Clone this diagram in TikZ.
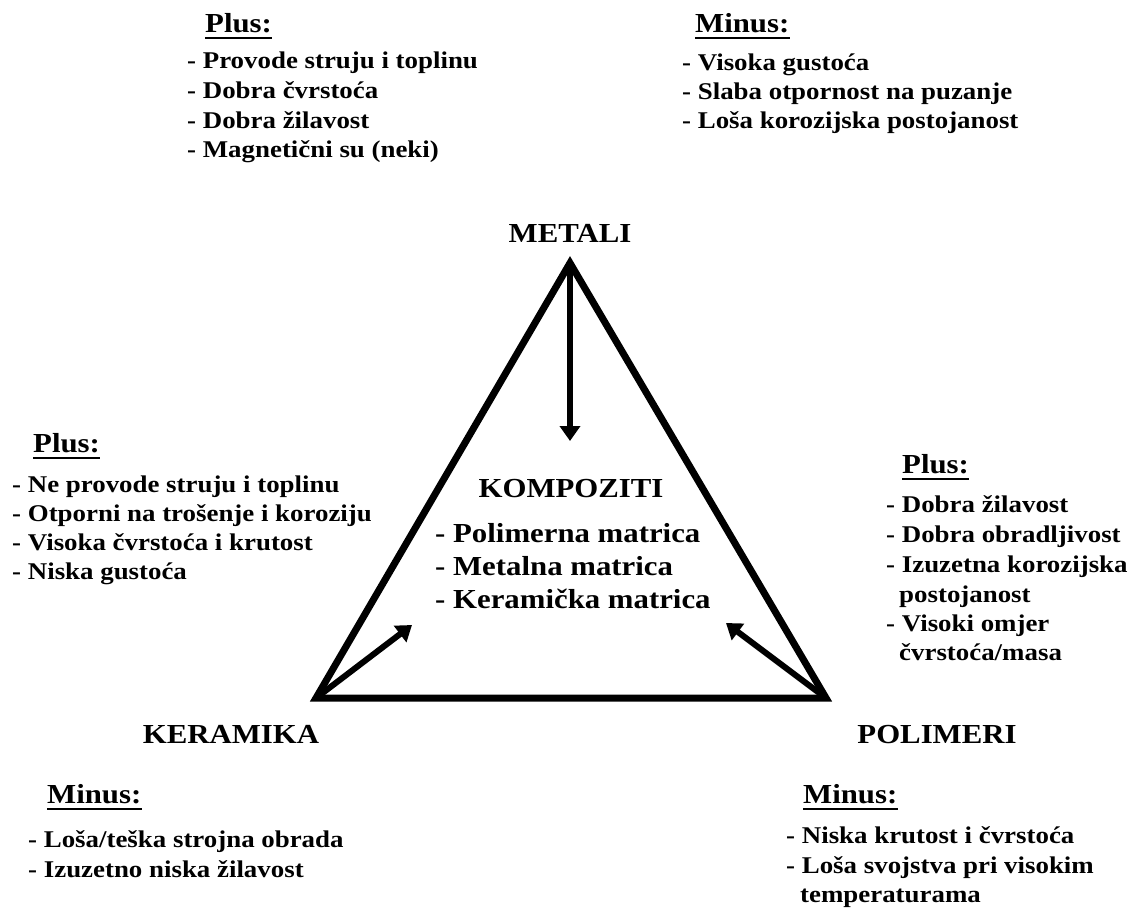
\documentclass[tikz,border=0pt]{standalone}
\usepackage{fontspec}
\setmainfont{Liberation Serif}[FakeStretch=1.12]
\usetikzlibrary{arrows.meta}
\tikzset{
  listitem/.style={anchor=base west, inner sep=0pt, font=\bfseries\fontsize{24}{28}\selectfont},
  bigitem/.style={anchor=base west, inner sep=0pt, font=\bfseries\fontsize{27.5}{32}\selectfont},
  hdrtext/.style={anchor=base west, inner sep=0pt, font=\bfseries\fontsize{27.5}{32}\selectfont},
  matname/.style={anchor=base, inner sep=0pt, font=\bfseries\fontsize{27.5}{32}\selectfont},
  ulline/.style={line width=2.5pt},
  triside/.style={line width=7pt, line join=miter},
  bigarrow/.style={line width=6pt, -{Triangle[width=20pt,length=15pt]}},
}
\newcommand\myhdr[3]{\node[hdrtext] (#1) at (#2) {#3};
  \draw[ulline] ([yshift=-6pt]#1.base west) -- ([yshift=-6pt]#1.base east);}
\begin{document}
\begin{tikzpicture}[x=1pt,y=-1pt]
\useasboundingbox[fill=white] (0,0) rectangle (1135,908);

% triangle
\coordinate (M) at (570,263);
\coordinate (K) at (316,698);
\coordinate (P) at (826,698);
\draw[triside] (M) -- (K) -- (P) -- cycle;
\coordinate (Mt) at (570,441);
\coordinate (Kt) at (412,625);
\coordinate (Pt) at (726,623);
\draw[bigarrow] (M) -- (Mt);
\draw[bigarrow] (K) -- (Kt);
\draw[bigarrow] (P) -- (Pt);

% material names
\node[matname] (metali) at (570,242) {METALI};
\node[matname] (keramika) at (231,743) {KERAMIKA};
\node[matname] (polimeri) at (937,743) {POLIMERI};

% centre
\node[matname] (kompoziti) at (571,497) {KOMPOZITI};
\node[bigitem] (c1) at (435,542) {- Polimerna matrica};
\node[bigitem] (c2) at (435,575) {- Metalna matrica};
\node[bigitem] (c3) at (435,608) {- Keramička matrica};

% metali plus
\myhdr{mp}{205,32}{Plus:}
\node[listitem] (mp1) at (187,68) {- Provode struju i toplinu};
\node[listitem] (mp2) at (187,98) {- Dobra čvrstoća};
\node[listitem] (mp3) at (187,128) {- Dobra žilavost};
\node[listitem] (mp4) at (187,157) {- Magnetični su (neki)};

% metali minus
\myhdr{mm}{695,32}{Minus:}
\node[listitem] (mm1) at (682,70) {- Visoka gustoća};
\node[listitem] (mm2) at (682,99) {- Slaba otpornost na puzanje};
\node[listitem] (mm3) at (682,128) {- Loša korozijska postojanost};

% keramika plus
\myhdr{kp}{33,452}{Plus:}
\node[listitem] (kp1) at (12,492) {- Ne provode struju i toplinu};
\node[listitem] (kp2) at (12,521) {- Otporni na trošenje i koroziju};
\node[listitem] (kp3) at (12,550) {- Visoka čvrstoća i krutost};
\node[listitem] (kp4) at (12,579) {- Niska gustoća};

% keramika minus
\myhdr{km}{47,803}{Minus:}
\node[listitem] (km1) at (28,847) {- Loša/teška strojna obrada};
\node[listitem] (km2) at (28,877) {- Izuzetno niska žilavost};

% polimeri plus
\myhdr{pp}{902,473}{Plus:}
\node[listitem] (pp1) at (886,512) {- Dobra žilavost};
\node[listitem] (pp2) at (886,542) {- Dobra obradljivost};
\node[listitem] (pp3) at (886,572) {- Izuzetna korozijska};
\node[listitem] (pp3b) at (899,602) {postojanost};
\node[listitem] (pp4) at (886,631) {- Visoki omjer};
\node[listitem] (pp4b) at (899,660) {čvrstoća/masa};

% polimeri minus
\myhdr{pm}{803,803}{Minus:}
\node[listitem] (pm1) at (786,843) {- Niska krutost i čvrstoća};
\node[listitem] (pm2) at (786,873) {- Loša svojstva pri visokim};
\node[listitem] (pm2b) at (800,902) {temperaturama};
\end{tikzpicture}
\end{document}
